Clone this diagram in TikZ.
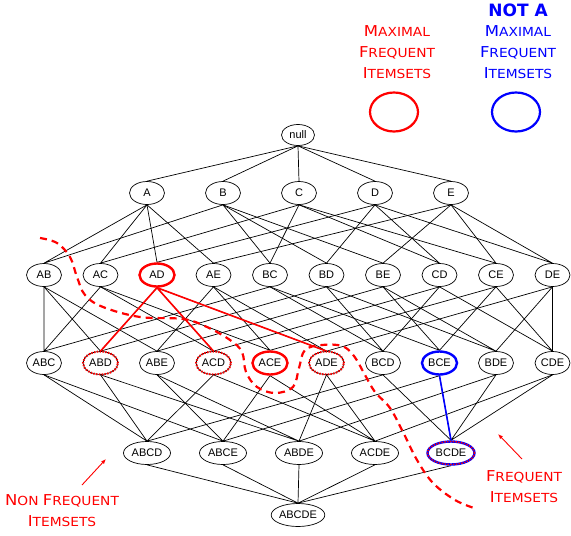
\documentclass[tikz,border=0pt]{standalone}
\usepackage{fontspec}
\setmainfont{Liberation Sans}
\newfontfamily\legendfont[FakeStretch=1.1]{DejaVu Sans}
\newfontfamily\notafont{DejaVu Sans}
\usetikzlibrary{shapes.geometric, arrows.meta, backgrounds}

\newcommand{\fakesc}[2]{{\fontsize{15}{21}\selectfont #1}#2}

\begin{document}
\begin{tikzpicture}[
	  x=1pt, y=-1pt,
	  item/.style={ellipse, draw, fill=white, line width=0.7pt, inner sep=0pt,
	    minimum width=35pt, minimum height=23pt, font=\fontsize{11}{13}\selectfont},
	  wideitem/.style={item, minimum width=47pt},
	  maxfreq/.style={item, draw=red, line width=2.4pt},
	  notmax/.style={item, draw=blue, line width=2.4pt},
	  freq/.style={item, postaction={draw=red, line width=2pt, dash pattern=on 1.4pt off 1.4pt}},
	  freqnotmax/.style={wideitem, draw=blue, line width=2.4pt,
	    postaction={draw=red, line width=1.4pt, dash pattern=on 1.4pt off 1.4pt}},
	  edge/.style={line width=0.7pt},
	  maxedge/.style={red, line width=1.6pt},
	  notmaxedge/.style={blue, line width=1.6pt},
	  border/.style={red, line width=2.2pt, dash pattern=on 7pt off 5pt},
	  legend/.style={align=center, font=\legendfont\fontsize{12.5}{21}\selectfont},
	  keyring/.style={ellipse, line width=2.2pt, inner sep=0pt, minimum width=48pt, minimum height=39pt},
	  pointer/.style={red, line width=0.9pt, -{Latex[length=5pt, width=4pt]}}
	]
	\useasboundingbox (0,0) rectangle (571,536);

	% lattice
	\node[item, minimum width=33pt, minimum height=21pt] (null) at (298,135) {null};
	\foreach \n [count=\i from 0] in {A,B,C,D,E}
	  \node[item] (\n) at (147+76*\i,193) {\n};
	\foreach \n/\s [count=\i from 0] in {AB/item, AC/item, AD/maxfreq, AE/item, BC/item,
	    BD/item, BE/item, CD/item, CE/item, DE/item}
	  \node[\s] (\n) at (44+56.5*\i,275) {\n};
	\foreach \n/\s [count=\i from 0] in {ABC/item, ABD/freq, ABE/item, ACD/freq, ACE/maxfreq,
	    ADE/freq, BCD/item, BCE/notmax, BDE/item, CDE/item}
	  \node[\s] (\n) at (44+56.5*\i,363) {\n};
	\foreach \n/\s [count=\i from 0] in {ABCD/wideitem, ABCE/wideitem, ABDE/wideitem,
	    ACDE/wideitem, BCDE/freqnotmax}
	  \node[\s] (\n) at (147+76*\i,453) {\n};
	\node[item, minimum width=50pt] (ABCDE) at (298,515) {ABCDE};

	\begin{scope}[on background layer]
	  \foreach \n in {A,B,C,D,E}
	    \draw[edge] (null.south) -- (\n.north);
	  \foreach \x/\y in {A/B,A/C,A/D,A/E,B/C,B/D,B/E,C/D,C/E,D/E}
	    \draw[edge] (\x.south) -- (\x\y.north) (\y.south) -- (\x\y.north);
	  \foreach \x/\y/\z in {A/B/C,A/B/D,A/B/E,A/C/D,A/C/E,A/D/E,B/C/D,B/C/E,B/D/E,C/D/E}
	    \draw[edge] (\x\y.south) -- (\x\y\z.north) (\x\z.south) -- (\x\y\z.north)
	      (\y\z.south) -- (\x\y\z.north);
	  \foreach \x/\y/\z/\w in {A/B/C/D,A/B/C/E,A/B/D/E,A/C/D/E,B/C/D/E}
	    \draw[edge] (\x\y\z.south) -- (\x\y\z\w.north) (\x\y\w.south) -- (\x\y\z\w.north)
	      (\x\z\w.south) -- (\x\y\z\w.north) (\y\z\w.south) -- (\x\y\z\w.north);
	  \foreach \n in {ABCD,ABCE,ABDE,ACDE,BCDE}
	    \draw[edge] (\n.south) -- (ABCDE.north);
	  \draw[maxedge] (AD.south) -- (ABD.north) (AD.south) -- (ACD.north) (AD.south) -- (ADE.north);
	  \draw[notmaxedge] (BCE.south) -- (BCDE.north);
	\end{scope}

	% frequent border
	\draw[border] plot[smooth, tension=0.6] coordinates {(40,238) (57,243) (70,257) (77,277)
	  (85,295) (103,307) (140,317) (183,319) (207,327) (230,340) (242,352) (246,372) (257,387)
	  (275,393) (293,387) (299,368) (305,350) (322,345) (342,346) (354,356) (365,375) (375,392)
	  (390,408) (403,432) (417,460) (433,483) (455,500) (474,508)};

	% legend
	\node[font=\notafont\bfseries\fontsize{17}{20}\selectfont, text=blue] (nota) at (518,10) {NOT A};
	\node[legend, text=red] (maxleg) at (397,52) {\fakesc{M}{AXIMAL}\\\fakesc{F}{REQUENT}\\\fakesc{I}{TEMSETS}};
	\node[legend, text=blue] (notmaxleg) at (518,52) {\fakesc{M}{AXIMAL}\\\fakesc{F}{REQUENT}\\\fakesc{I}{TEMSETS}};
	\node[keyring, draw=red] (maxkey) at (394,112) {};
	\node[keyring, draw=blue] (notmaxkey) at (516,112) {};

	\node[legend, text=red] (nonfreq) at (62,511) {\fakesc{N}{ON} \fakesc{F}{REQUENT}\\\fakesc{I}{TEMSETS}};
	\node[legend, text=red] (freqleg) at (524,487) {\fakesc{F}{REQUENT}\\\fakesc{I}{TEMSETS}};
	\coordinate (nftail) at (82,485);
	\coordinate (nftip) at (106,459);
	\coordinate (ftail) at (522,459);
	\coordinate (ftip) at (498,434);
	\draw[pointer] (nftail) -- (nftip);
	\draw[pointer] (ftail) -- (ftip);
\end{tikzpicture}
\end{document}
